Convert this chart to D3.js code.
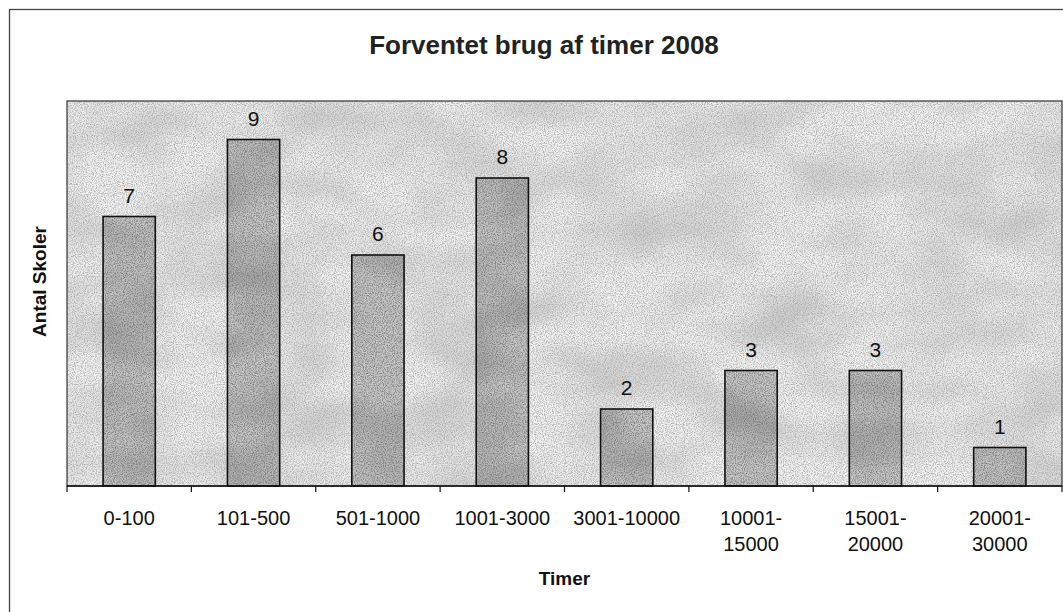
<!DOCTYPE html>
<html>
<head>
<meta charset="utf-8">
<script src="https://cdn.jsdelivr.net/npm/d3@7"></script>
<style>
  body { margin: 0; background: #fff; }
  svg { display: block; font-family: "Liberation Sans", Arial, sans-serif; }
</style>
</head>
<body>
<svg width="1063" height="612"></svg>
<script>
var categories = ["0-100", "101-500", "501-1000", "1001-3000", "3001-10000", "10001-15000", "15001-20000", "20001-30000"];
var tickLabels = [["0-100"], ["101-500"], ["501-1000"], ["1001-3000"], ["3001-10000"], ["10001-", "15000"], ["15001-", "20000"], ["20001-", "30000"]];
var antalSkoler = [7, 9, 6, 8, 2, 3, 3, 1];
var yDomain = [0, 10];

var svg = d3.select("svg"),
    width = +svg.attr("width"),
    height = +svg.attr("height");

var plot = { left: 67, right: 1062, top: 101, bottom: 486 };

// grainy scan texture
var defs = svg.append("defs");
var grain = defs.append("filter").attr("id", "grain")
    .attr("x", 0).attr("y", 0).attr("width", "100%").attr("height", "100%");
grain.append("feTurbulence")
    .attr("type", "fractalNoise").attr("baseFrequency", 0.9).attr("numOctaves", 2).attr("seed", 3)
    .attr("result", "fine");
grain.append("feColorMatrix").attr("in", "fine").attr("type", "matrix")
    .attr("values", "0 0 0 0 0  0 0 0 0 0  0 0 0 0 0  2.2 0 0 0 -0.85")
    .attr("result", "dots");
grain.append("feTurbulence")
    .attr("type", "fractalNoise").attr("baseFrequency", "0.012 0.02").attr("numOctaves", 2).attr("seed", 8)
    .attr("result", "coarse");
grain.append("feColorMatrix").attr("in", "coarse").attr("type", "matrix")
    .attr("values", "0 0 0 0 0  0 0 0 0 0  0 0 0 0 0  0.9 0 0 0 -0.3")
    .attr("result", "blots");
grain.append("feMerge").call(function (m) {
  m.append("feMergeNode").attr("in", "blots");
  m.append("feMergeNode").attr("in", "dots");
});
grain.append("feComposite").attr("in2", "SourceGraphic").attr("operator", "in");

// outer frame
svg.append("rect")
    .attr("x", 9.5).attr("y", 9.5)
    .attr("width", width + 20).attr("height", height + 20)
    .attr("fill", "#fff").attr("stroke", "#444").attr("stroke-width", 1.3);

var x = d3.scaleBand()
    .domain(categories)
    .range([plot.left, plot.right])
    .paddingInner(0.58)
    .paddingOuter(0.29);

var y = d3.scaleLinear()
    .domain(yDomain)
    .range([plot.bottom, plot.top]);

// plot area
svg.append("rect")
    .attr("x", plot.left).attr("y", plot.top)
    .attr("width", plot.right - plot.left).attr("height", plot.bottom - plot.top)
    .attr("fill", "#f2f2f2");
svg.append("rect")
    .attr("x", plot.left).attr("y", plot.top)
    .attr("width", plot.right - plot.left).attr("height", plot.bottom - plot.top)
    .attr("fill", "#000").attr("filter", "url(#grain)").attr("opacity", 0.3);
svg.append("rect")
    .attr("x", plot.left).attr("y", plot.top)
    .attr("width", plot.right - plot.left).attr("height", plot.bottom - plot.top)
    .attr("fill", "none").attr("stroke", "#333").attr("stroke-width", 1.2);

// bars
var bars = svg.append("g").selectAll("g")
    .data(antalSkoler)
    .enter().append("g");

bars.append("rect")
    .attr("x", function (d, i) { return x(categories[i]); })
    .attr("y", function (d) { return y(d); })
    .attr("width", x.bandwidth())
    .attr("height", function (d) { return y(0) - y(d); })
    .attr("fill", "#c6c6c6");
bars.append("rect")
    .attr("x", function (d, i) { return x(categories[i]); })
    .attr("y", function (d) { return y(d); })
    .attr("width", x.bandwidth())
    .attr("height", function (d) { return y(0) - y(d); })
    .attr("fill", "#000").attr("filter", "url(#grain)").attr("opacity", 0.4);
bars.append("rect")
    .attr("x", function (d, i) { return x(categories[i]); })
    .attr("y", function (d) { return y(d); })
    .attr("width", x.bandwidth())
    .attr("height", function (d) { return y(0) - y(d); })
    .attr("fill", "none").attr("stroke", "#111").attr("stroke-width", 1.6);

bars.append("text")
    .attr("x", function (d, i) { return x(categories[i]) + x.bandwidth() / 2; })
    .attr("y", function (d) { return y(d) - 14; })
    .attr("text-anchor", "middle")
    .attr("font-size", 21)
    .attr("fill", "#111")
    .text(function (d) { return d; });

// x axis line and ticks between categories
var axis = svg.append("g");
axis.append("line")
    .attr("x1", plot.left).attr("x2", plot.right)
    .attr("y1", y(0)).attr("y2", y(0))
    .attr("stroke", "#111").attr("stroke-width", 1.5);
axis.selectAll("line.tick")
    .data(d3.range(categories.length + 1))
    .enter().append("line")
    .attr("class", "tick")
    .attr("x1", function (i) { return plot.left + i * x.step(); })
    .attr("x2", function (i) { return plot.left + i * x.step(); })
    .attr("y1", y(0)).attr("y2", y(0) + 6)
    .attr("stroke", "#111").attr("stroke-width", 1.2);

var labels = axis.selectAll("text.lab")
    .data(tickLabels)
    .enter().append("text")
    .attr("class", "lab")
    .attr("text-anchor", "middle")
    .attr("font-size", 20)
    .attr("fill", "#111")
    .attr("transform", function (d, i) {
      return "translate(" + (x(categories[i]) + x.bandwidth() / 2) + "," + 525 + ")";
    });
labels.selectAll("tspan")
    .data(function (d) { return d; })
    .enter().append("tspan")
    .attr("x", 0)
    .attr("dy", function (d, j) { return j === 0 ? 0 : 26; })
    .text(function (d) { return d; });

// titles
svg.append("text")
    .attr("x", 544)
    .attr("y", 54)
    .attr("text-anchor", "middle")
    .attr("font-size", 26)
    .attr("font-weight", "bold")
    .attr("fill", "#222")
    .text("Forventet brug af timer 2008");

svg.append("text")
    .attr("x", (plot.left + plot.right) / 2)
    .attr("y", 585)
    .attr("text-anchor", "middle")
    .attr("font-size", 19)
    .attr("font-weight", "bold")
    .attr("fill", "#111")
    .text("Timer");

svg.append("text")
    .attr("transform", "translate(46," + ((plot.top + plot.bottom) / 2 - 12) + ") rotate(-90)")
    .attr("text-anchor", "middle")
    .attr("font-size", 19)
    .attr("font-weight", "bold")
    .attr("fill", "#111")
    .text("Antal Skoler");
</script>
</body>
</html>
